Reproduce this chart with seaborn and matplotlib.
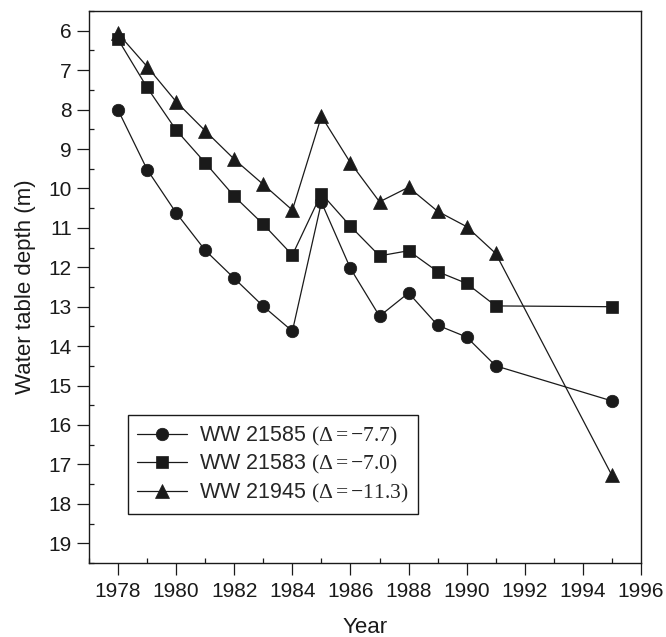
import matplotlib
matplotlib.use("Agg")
import matplotlib.pyplot as plt
from matplotlib.ticker import MultipleLocator
import seaborn as sns
import pandas as pd

years = [1978, 1979, 1980, 1981, 1982, 1983, 1984, 1985, 1986, 1987, 1988, 1989, 1990, 1991, 1995]
ww21585 = [8.01, 9.52, 10.62, 11.57, 12.28, 12.99, 13.62, 10.35, 12.03, 13.24, 12.65, 13.47, 13.77, 14.50, 15.39]
ww21583 = [6.22, 7.44, 8.52, 9.35, 10.20, 10.91, 11.69, 10.13, 10.96, 11.71, 11.58, 12.11, 12.41, 12.98, 13.00]
ww21945 = [6.07, 6.91, 7.80, 8.54, 9.26, 9.90, 10.55, 8.17, 9.35, 10.34, 9.97, 10.58, 10.97, 11.65, 17.28]
labels = [r"WW 21585 $\mathrm{(\Delta = -7.7)}$",
          r"WW 21583 $\mathrm{(\Delta = -7.0)}$",
          r"WW 21945 $\mathrm{(\Delta = -11.3)}$"]

sns.set_style("ticks")
plt.rcParams["font.family"] = ["Liberation Sans", "DejaVu Sans"]
plt.rcParams["mathtext.fontset"] = "custom"
plt.rcParams["mathtext.rm"] = "Liberation Serif"
plt.rcParams["mathtext.it"] = "Liberation Serif:italic"
plt.rcParams["mathtext.bf"] = "Liberation Serif:bold"

fig = plt.figure(figsize=(6.66, 6.37), dpi=100)
ax = fig.add_axes([89 / 666, 1 - 563 / 637, (641 - 89) / 666, (563 - 11) / 637])

ink = "#1a1a1a"
series = [(ww21585, "o", 9.0, labels[0]),
          (ww21583, "s", 9.3, labels[1]),
          (ww21945, "^", 10.5, labels[2])]
for vals, mk, ms, lab in series:
    df = pd.DataFrame({"Year": years, "Depth": vals})
    sns.lineplot(data=df, x="Year", y="Depth", ax=ax, color=ink, linewidth=0.9,
                 marker=mk, markersize=ms, markeredgecolor=ink, markerfacecolor=ink,
                 markeredgewidth=0.5, label=lab, estimator=None, sort=False)

ax.set_xlim(1977, 1996)
ax.set_ylim(19.5, 5.5)
ax.xaxis.set_major_locator(MultipleLocator(2))
ax.xaxis.set_minor_locator(MultipleLocator(1))
ax.yaxis.set_major_locator(MultipleLocator(1))
ax.yaxis.set_minor_locator(MultipleLocator(0.5))
ax.tick_params(which="both", bottom=True, left=True, top=False, right=False)
ax.tick_params(which="major", direction="out", length=8.5, width=0.9, colors=ink,
               labelsize=15, labelcolor=ink)
ax.tick_params(axis="x", which="major", pad=5)
ax.tick_params(axis="y", which="major", pad=4)
ax.tick_params(which="minor", direction="in", length=3.6, width=0.9, colors=ink)
for sp in ax.spines.values():
    sp.set_visible(True)
    sp.set_color(ink)
    sp.set_linewidth(1.0)

ax.set_xlabel("Year", fontsize=16, color=ink, labelpad=12)
ax.set_ylabel("Water table depth (m)", fontsize=16, color=ink, labelpad=9)

leg = ax.legend(loc="lower left", bbox_to_anchor=(0.070, 0.088), fontsize=15.5,
                frameon=True, fancybox=False, edgecolor=ink, framealpha=1,
                handlelength=2.3, handletextpad=0.55, labelspacing=0.25,
                borderpad=0.45, borderaxespad=0)
leg.get_frame().set_linewidth(1.0)

fig.savefig("out.png", dpi=100)
